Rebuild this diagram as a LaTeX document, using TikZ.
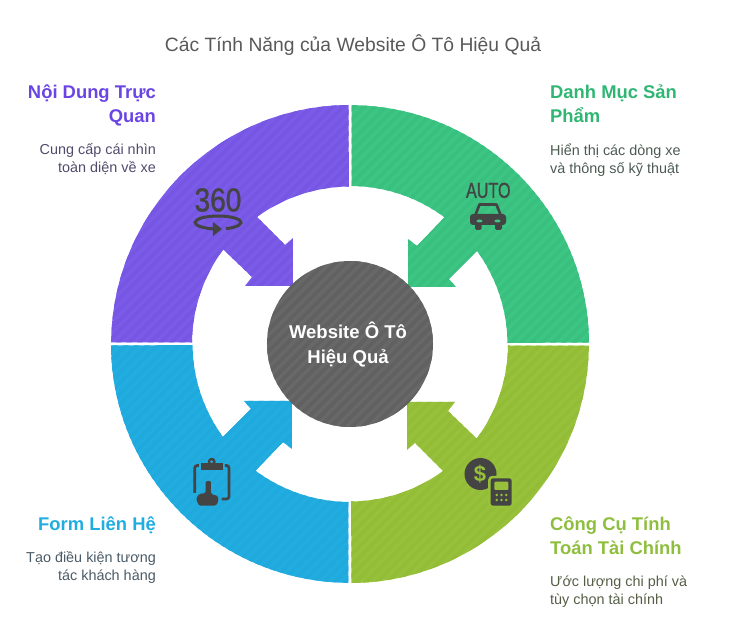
\documentclass[tikz,border=0pt]{standalone}
\usepackage{fontspec}
\setmainfont{Liberation Sans}
\newfontfamily\iconfont[FakeBold=1.3]{Liberation Sans}
\usetikzlibrary{calc}
\definecolor{purplefill}{HTML}{7B5CE8}
\definecolor{purplestripe}{HTML}{7656E3}
\definecolor{purpletext}{HTML}{6A45E3}
\definecolor{purplebody}{HTML}{4F4B6B}
\definecolor{greenfill}{HTML}{3CC583}
\definecolor{greenstripe}{HTML}{39C07F}
\definecolor{greentext}{HTML}{2FB673}
\definecolor{greenbody}{HTML}{4C5A52}
\definecolor{limefill}{HTML}{97C13A}
\definecolor{limestripe}{HTML}{93BD36}
\definecolor{limetext}{HTML}{8FBE3F}
\definecolor{limebody}{HTML}{555D45}
\definecolor{bluefill}{HTML}{22ADE1}
\definecolor{bluestripe}{HTML}{20A9DD}
\definecolor{bluetext}{HTML}{22ADE1}
\definecolor{bluebody}{HTML}{4A5A66}
\definecolor{hubfill}{HTML}{686868}
\definecolor{hubstripe}{HTML}{616161}
\definecolor{icongray}{HTML}{444444}
\tikzset{
  heading/.style={font=\fontsize{18.4}{24}\selectfont\bfseries,inner sep=0pt,align=#1},
  blurb/.style={font=\fontsize{14.4}{18}\selectfont,inner sep=0pt,align=#1},
}
% diagonal stripes, used on the ring and on the hub
\newcommand{\stripes}[1]{
  \foreach \s in {-40,...,40}
    \draw[#1,line width=3.8pt] (-300,{-300+\s*10.6}) -- (300,{300+\s*10.6});
}
% one quarter of the ring with its arrow, drawn in the upper right
\newcommand{\quarterpath}{
  (1.5,158) arc (89.5:53.3:158) -- (67,98) -- (58,105) -- (58,57) -- (106,57)
  -- (99,65) -- (127,93) arc (36.2:0.5:158) -- (239,1.5) arc (0.4:89.6:239) -- cycle
}
\newcommand{\quarter}[3]{
  \begin{scope}[rotate=#1]
    \fill[#2] \quarterpath;
    \clip \quarterpath;
    \begin{scope}[rotate=-#1]
      \stripes{#3}
    \end{scope}
  \end{scope}
}
\begin{document}
\begin{tikzpicture}[x=1pt,y=1pt]
  \useasboundingbox (-350,-284) rectangle (388,344);

  \quarter{0}{greenfill}{greenstripe}
  \quarter{90}{purplefill}{purplestripe}
  \quarter{180}{bluefill}{bluestripe}
  \quarter{270}{limefill}{limestripe}

  % hub
  \fill[hubfill] (0,0) circle (83);
  \begin{scope}
    \clip (0,0) circle (83);
    \stripes{hubstripe}
  \end{scope}
  \node[font=\fontsize{18.5}{25}\selectfont\bfseries,text=white,align=center,inner sep=0pt] (hub) at (-2,-1) {Website Ô Tô\\Hiệu Quả};

  \node[font=\fontsize{19.3}{24}\selectfont,text=black!65,inner sep=0pt] (title) at (3,299) {Các Tính Năng của Website Ô Tô Hiệu Quả};

  % labels
  \node[heading=right,text=purpletext,anchor=north east] (visual) at (-194,259) {Nội Dung Trực\\Quan};
  \node[blurb=right,text=purplebody,anchor=north east] (visualtext) at (-194,200.5) {Cung cấp cái nhìn\\toàn diện về xe};
  \node[heading=left,text=greentext,anchor=north west] (catalog) at (200,259) {Danh Mục Sản\\Phẩm};
  \node[blurb=left,text=greenbody,anchor=north west] (catalogtext) at (200,200.5) {Hiển thị các dòng xe\\và thông số kỹ thuật};
  \node[heading=right,text=bluetext,anchor=north east] (contact) at (-194,-173) {Form Liên Hệ};
  \node[blurb=right,text=bluebody,anchor=north east] (contacttext) at (-194,-207) {Tạo điều kiện tương\\tác khách hàng};
  \node[heading=left,text=limetext,anchor=north west] (finance) at (200,-173) {Công Cụ Tính\\Toán Tài Chính};
  \node[blurb=left,text=limebody,anchor=north west] (financetext) at (200,-231.5) {Ước lượng chi phí và\\tùy chọn tài chính};

  % 360 icon
  \node[font=\iconfont\fontsize{33}{33}\selectfont,text=icongray,inner sep=0pt,xscale=.85] (threesixty) at (-132,144) {360};
  \draw[icongray,line width=3pt] (-124.1,115.4) arc (-70:257.5:23 and 6.5);
  \fill[icongray] (-137,122) -- (-128,115) -- (-137,108) -- cycle;

  % car icon
  \node[font=\iconfont\fontsize{21.5}{21.5}\selectfont,text=icongray,inner sep=0pt,xscale=.75] (auto) at (138.3,153.6) {AUTO};
  \begin{scope}[icongray]
    \draw[line width=2.7pt,line join=round] (125,128) -- (129.5,139.4) -- (146.5,139.4) -- (151,128);
    \fill[rounded corners=3pt] (120,119) rectangle (156,130);
    \fill[rounded corners=1.5pt] (125,114) rectangle (131.7,121);
    \fill[rounded corners=1.5pt] (145,114) rectangle (152,121);
    \fill[greenfill] (129.5,123) ellipse (3 and 1.5);
    \fill[greenfill] (147.5,123) ellipse (3 and 1.5);
  \end{scope}

  % money icon
  \fill[icongray] (130.5,-130) circle (16);
  \node[font=\fontsize{22}{22}\selectfont\bfseries,text=limefill,inner sep=0pt] (dollar) at (130,-130) {\$};
  \fill[limefill,rounded corners=4pt] (138.2,-131.8) rectangle (164.2,-164.2);
  \fill[icongray,rounded corners=2.5pt] (140.7,-134.3) rectangle (161.7,-161.7);
  \fill[limefill,rounded corners=1pt] (144.3,-137.7) rectangle (158.3,-146);
  \foreach \cx in {146.7,151.5,156.2}
    \foreach \cy in {-151,-156}
      \fill[limefill] (\cx,\cy) circle (1.4);

  % clipboard icon
  \begin{scope}[icongray]
    \draw[line width=2.7pt,rounded corners=2.5pt] (-151,-121.5) -- (-155.3,-121.5) -- (-155.3,-149);
    \fill (-138.3,-117.7) circle (4);
    \fill[bluefill] (-138.3,-117.7) circle (1.5);
    \fill (-149.3,-126) rectangle (-127.3,-119);
    \draw[line width=2.7pt,rounded corners=2.5pt] (-125,-121.5) -- (-121,-121.5) -- (-121,-155) -- (-128.3,-155);
    \fill[rounded corners=1.5pt] (-144.3,-139.5) arc (180:0:2.65) -- (-139,-150) -- (-132,-152) -- (-131.5,-157) -- (-134,-161.7) -- (-151,-161.7) -- (-154,-155) -- (-151,-150) -- (-144.3,-149) -- cycle;
  \end{scope}
\end{tikzpicture}
\end{document}
